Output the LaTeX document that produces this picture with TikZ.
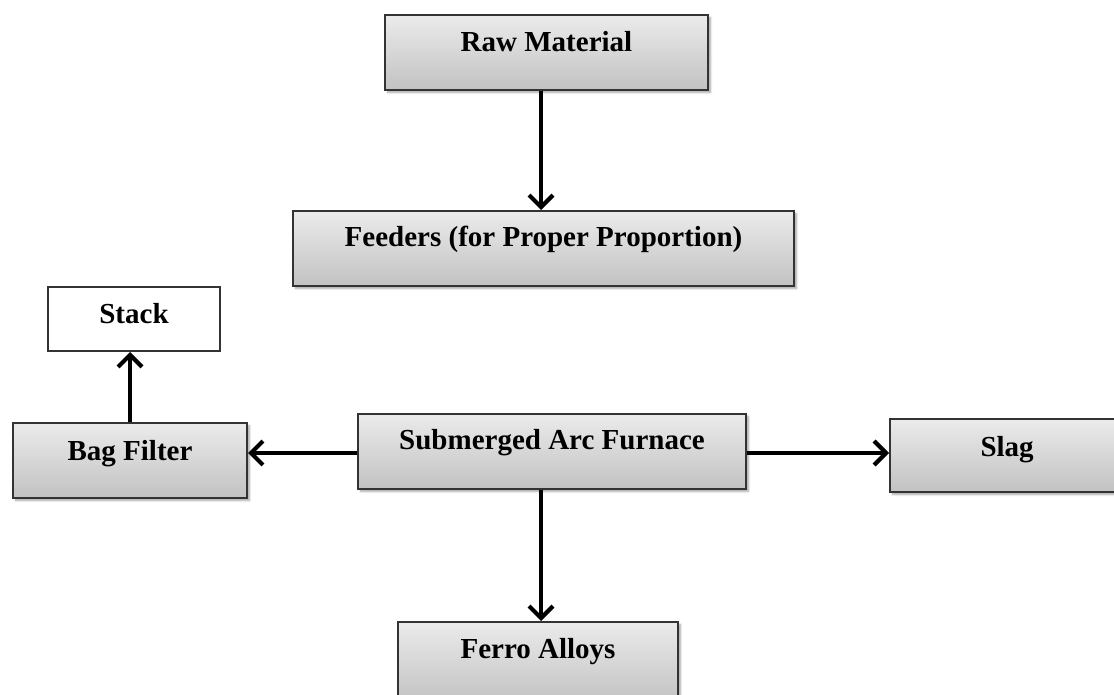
\documentclass[tikz,border=0pt]{standalone}
\usepackage{fontspec}
\setmainfont{Liberation Serif}
\usetikzlibrary{arrows.meta,shadows.blur}
\definecolor{boxtop}{HTML}{EBEBEB}
\definecolor{boxbot}{HTML}{C2C2C2}
\definecolor{boxline}{HTML}{333333}
\tikzset{
  gbox/.style={draw=boxline, line width=2pt, inner sep=0pt, anchor=north west,
    top color=boxtop, bottom color=boxbot,
    blur shadow={shadow xshift=2.5pt, shadow yshift=-2.5pt, shadow blur steps=6, shadow opacity=35},
    font=\fontsize{29}{30}\selectfont\bfseries},
  wbox/.style={draw=boxline, line width=2pt, inner sep=0pt, anchor=north west, fill=white,
    font=\fontsize{29}{30}\selectfont\bfseries},
  arr/.style={line width=4.5pt, -{Straight Barb[length=12pt,width=24pt,line width=4.2pt]}}
}
\begin{document}
\begin{tikzpicture}[x=1pt,y=-1pt]
\useasboundingbox (0,0) rectangle (1114,695);
\node[gbox, minimum width=323pt, text height=37pt, text depth=38pt] (raw) at (384,14) {Raw Material};
\node[gbox, minimum width=501pt, text height=36pt, text depth=39pt] (feed) at (292,210) {Feeders (for Proper Proportion)};
\node[wbox, minimum width=172pt, text height=36pt, text depth=28pt] (stack) at (47,286) {Stack};
\node[gbox, minimum width=234pt, text height=37pt, text depth=38pt] (bag) at (12,422) {Bag Filter};
\node[gbox, minimum width=388pt, text height=35pt, text depth=40pt] (furn) at (357,413) {Submerged Arc Furnace};
\node[gbox, minimum width=240pt, text height=37pt, text depth=36pt, text width=225pt, align=left] (slag) at (889,418) {\hspace*{83pt}Slag};
\node[gbox, minimum width=280pt, text height=36pt, text depth=45pt] (ferro) at (397,621) {Ferro Alloys};
\draw[arr] ([xshift=-5.5pt]raw.south) -- ([xshift=-5.5pt]raw.south |- feed.north);
\draw[arr] ([yshift=-1.5pt]furn.west) -- ([yshift=-1.5pt]furn.west -| bag.east);
\draw[arr] ([yshift=-1.5pt]furn.east) -- ([yshift=-1.5pt]furn.east -| slag.west);
\draw[arr] ([xshift=-11pt]furn.south) -- ([xshift=-11pt]furn.south |- ferro.north);
\draw[arr] (bag.north) -- (bag.north |- stack.south);
\end{tikzpicture}
\end{document}
